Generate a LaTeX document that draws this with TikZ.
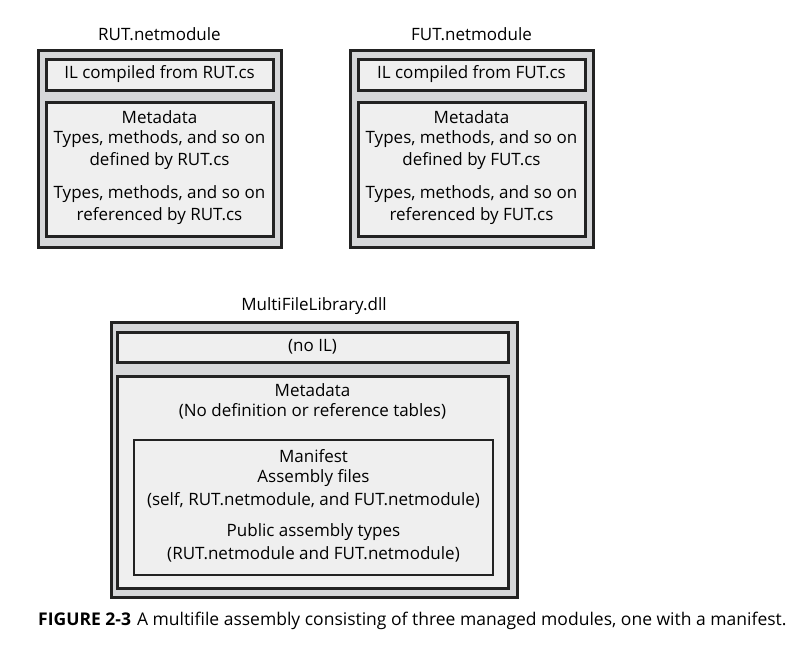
\documentclass[tikz,border=0pt]{standalone}
\usepackage{fontspec}
\setmainfont{Open Sans}
\usetikzlibrary{fit}
\definecolor{edge}{HTML}{222222}
\definecolor{outerfill}{HTML}{D6D7D9}
\definecolor{innerfill}{HTML}{EFEFEF}
\tikzset{
  outerbox/.style={draw=edge, line width=3pt, fill=outerfill, inner sep=0pt},
  innerbox/.style={draw=edge, line width=3pt, fill=innerfill, inner sep=0pt},
  manibox/.style={draw=edge, line width=2.2pt, fill=innerfill, inner sep=0pt},
  txt/.style={font=\fontsize{17}{20}\selectfont, text=black, inner sep=0pt, anchor=center},
  ttl/.style={font=\fontsize{17}{20}\selectfont, text=black, inner sep=0pt, anchor=center},
}
\begin{document}
\begin{tikzpicture}[x=1pt,y=-1pt]
\useasboundingbox[fill=white] (0,0) rectangle (804,645);
% RUT
\node[ttl] (rutt) at (159.5,34) {RUT.netmodule};
\node[outerbox, fit={(38,50) (281,247)}] (rut) {};
\node[innerbox, fit={(46,59) (273,90)}] (rutil) {};
\node[innerbox, fit={(46,102) (273,236)}] (rutmd) {};
\node[txt] (rutilt) at (rutil.center) {IL compiled from RUT.cs};
\node[txt] (rutm1) at (159.5,117) {Metadata};
\node[txt] (rutm2) at (159.5,139) {Types, methods, and so on};
\node[txt] (rutm3) at (159.5,161) {defined by RUT.cs};
\node[txt] (rutm4) at (159.5,194) {Types, methods, and so on};
\node[txt] (rutm5) at (159.5,216) {referenced by RUT.cs};
% FUT
\node[ttl] (futt) at (471.5,34) {FUT.netmodule};
\node[outerbox, fit={(350,50) (593,247)}] (fut) {};
\node[innerbox, fit={(358,59) (585,90)}] (futil) {};
\node[innerbox, fit={(358,102) (585,236)}] (futmd) {};
\node[txt] (futilt) at (futil.center) {IL compiled from FUT.cs};
\node[txt] (futm1) at (471.5,117) {Metadata};
\node[txt] (futm2) at (471.5,139) {Types, methods, and so on};
\node[txt] (futm3) at (471.5,161) {defined by FUT.cs};
\node[txt] (futm4) at (471.5,194) {Types, methods, and so on};
\node[txt] (futm5) at (471.5,216) {referenced by FUT.cs};
% MultiFileLibrary
\node[ttl] (mflt) at (314,306) {MultiFileLibrary.dll};
\node[outerbox, fit={(111,322) (517,597)}] (mfl) {};
\node[innerbox, fit={(117,332) (508,362)}] (mflil) {};
\node[innerbox, fit={(117,376) (508,588)}] (mflmd) {};
\node[manibox, fit={(134,440) (493,575)}] (mani) {};
\node[txt] (mflilt) at (mflil.center) {(no IL)};
\node[txt] (mflm1) at (312.5,390) {Metadata};
\node[txt] (mflm2) at (312.5,411) {(No definition or reference tables)};
\node[txt] (man1) at (313.5,456) {Manifest};
\node[txt] (man2) at (313.5,478) {Assembly files};
\node[txt] (man3) at (313.5,500) {(self, RUT.netmodule, and FUT.netmodule)};
\node[txt] (man4) at (313.5,532) {Public assembly types};
\node[txt] (man5) at (313.5,554) {(RUT.netmodule and FUT.netmodule)};
% caption
\node[inner sep=0pt, anchor=west, font=\fontsize{17.5}{20}\selectfont] (cap) at (38,621)
  {\textbf{FIGURE 2-3}\hspace{6pt}A multifile assembly consisting of three managed modules, one with a manifest.};
\end{tikzpicture}
\end{document}
